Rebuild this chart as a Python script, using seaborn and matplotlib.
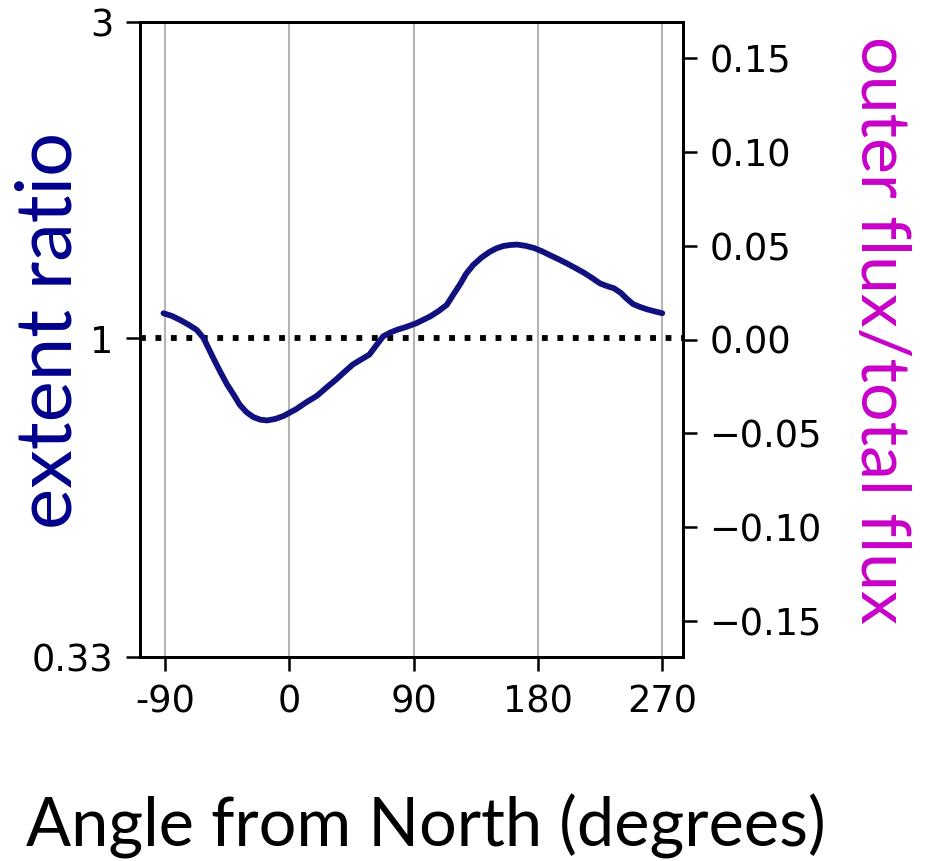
import matplotlib
matplotlib.use("Agg")
import matplotlib.pyplot as plt
import seaborn as sns
import pandas as pd

# extent ratio vs angle
angle = [-91, -85, -79, -73, -67, -62, -55, -50, -45, -40, -36, -31, -26, -21, -16,
         -10, -4, 5, 12, 20, 27, 34, 40, 46, 52, 58, 63, 68, 73, 78, 85,
         92, 102, 108, 114, 119, 124, 128, 133, 139, 145, 150, 155, 160, 165, 171,
         177, 183, 189, 195, 201, 207, 213, 219, 225, 230, 235, 240, 244, 249, 254,
         259, 264, 270]
extent_ratio = [1.090, 1.080, 1.065, 1.048, 1.029, 1.000, 0.933, 0.890, 0.851, 0.820,
                0.794, 0.773, 0.760, 0.753, 0.751, 0.755, 0.763, 0.781, 0.799, 0.818,
                0.842, 0.866, 0.889, 0.912, 0.928, 0.944, 0.975, 1.006, 1.019, 1.029,
                1.040, 1.053, 1.078, 1.098, 1.122, 1.165, 1.209, 1.250, 1.288, 1.322,
                1.349, 1.366, 1.377, 1.382, 1.384, 1.378, 1.368, 1.352, 1.333, 1.315,
                1.296, 1.276, 1.256, 1.233, 1.209, 1.198, 1.189, 1.170, 1.148, 1.125,
                1.114, 1.105, 1.098, 1.090]

x_ticks = [-90, 0, 90, 180, 270]
x_ticklabels = ["-90", "0", "90", "180", "270"]
left_ticks = [0.33, 1, 3]
left_ticklabels = ["0.33", "1", "3"]
right_ticks = [-0.15, -0.10, -0.05, 0.00, 0.05, 0.10, 0.15]

df = pd.DataFrame({"angle": angle, "extent": extent_ratio})

sns.set_style("ticks")
plt.rcParams["font.family"] = ["DejaVu Sans"]

fig = plt.figure(figsize=(9.3, 8.61), dpi=100)
ax = fig.add_axes([140 / 930, 1 - 657 / 861, 543 / 930, 635 / 861])

sns.lineplot(data=df, x="angle", y="extent", ax=ax, color="#10107e", lw=4.2, zorder=3)
ax.axhline(1, color="black", ls=":", lw=4.2, zorder=2)

ax.set_yscale("log")
ax.set_ylim(1 / 3, 3)
ax.set_xlim(-108, 285)
ax.set_yticks(left_ticks)
ax.set_yticklabels(left_ticklabels)
ax.yaxis.set_minor_locator(matplotlib.ticker.NullLocator())
ax.set_xticks(x_ticks)
ax.set_xticklabels(x_ticklabels)
ax.grid(axis="x", color="#b5b5b5", lw=1.5)
ax.grid(axis="y", visible=False)

for s in ax.spines.values():
    s.set_linewidth(2)
    s.set_color("black")
ax.tick_params(axis="both", labelsize=26.5, length=10, width=1.8, pad=9, colors="black")

ax.set_xlabel("Angle from North (degrees)", fontsize=48, family="Lato", color="black")
ax.xaxis.set_label_coords(0.527, -0.215)
ax.set_ylabel("extent ratio", fontsize=56, family="Lato", color="#00008b")
ax.yaxis.set_label_coords(-0.1, 0.515)

ax2 = ax.twinx()
ax2.set_ylim(-0.169, 0.169)
ax2.set_yticks(right_ticks)
ax2.set_yticklabels([f"{v:.2f}".replace("-", "\u2212") for v in right_ticks])
ax2.grid(False)
ax2.tick_params(axis="y", labelsize=26.5, length=10, width=1.8, pad=9, colors="black")
for s in ax2.spines.values():
    s.set_linewidth(2)
    s.set_color("black")
ax2.set_ylabel("outer flux/total flux", fontsize=49, family="Lato", color="#c800c8",
               rotation=270, va="bottom")
ax2.yaxis.set_label_coords(1.305, 0.515)

fig.savefig("out.png", dpi=100)
